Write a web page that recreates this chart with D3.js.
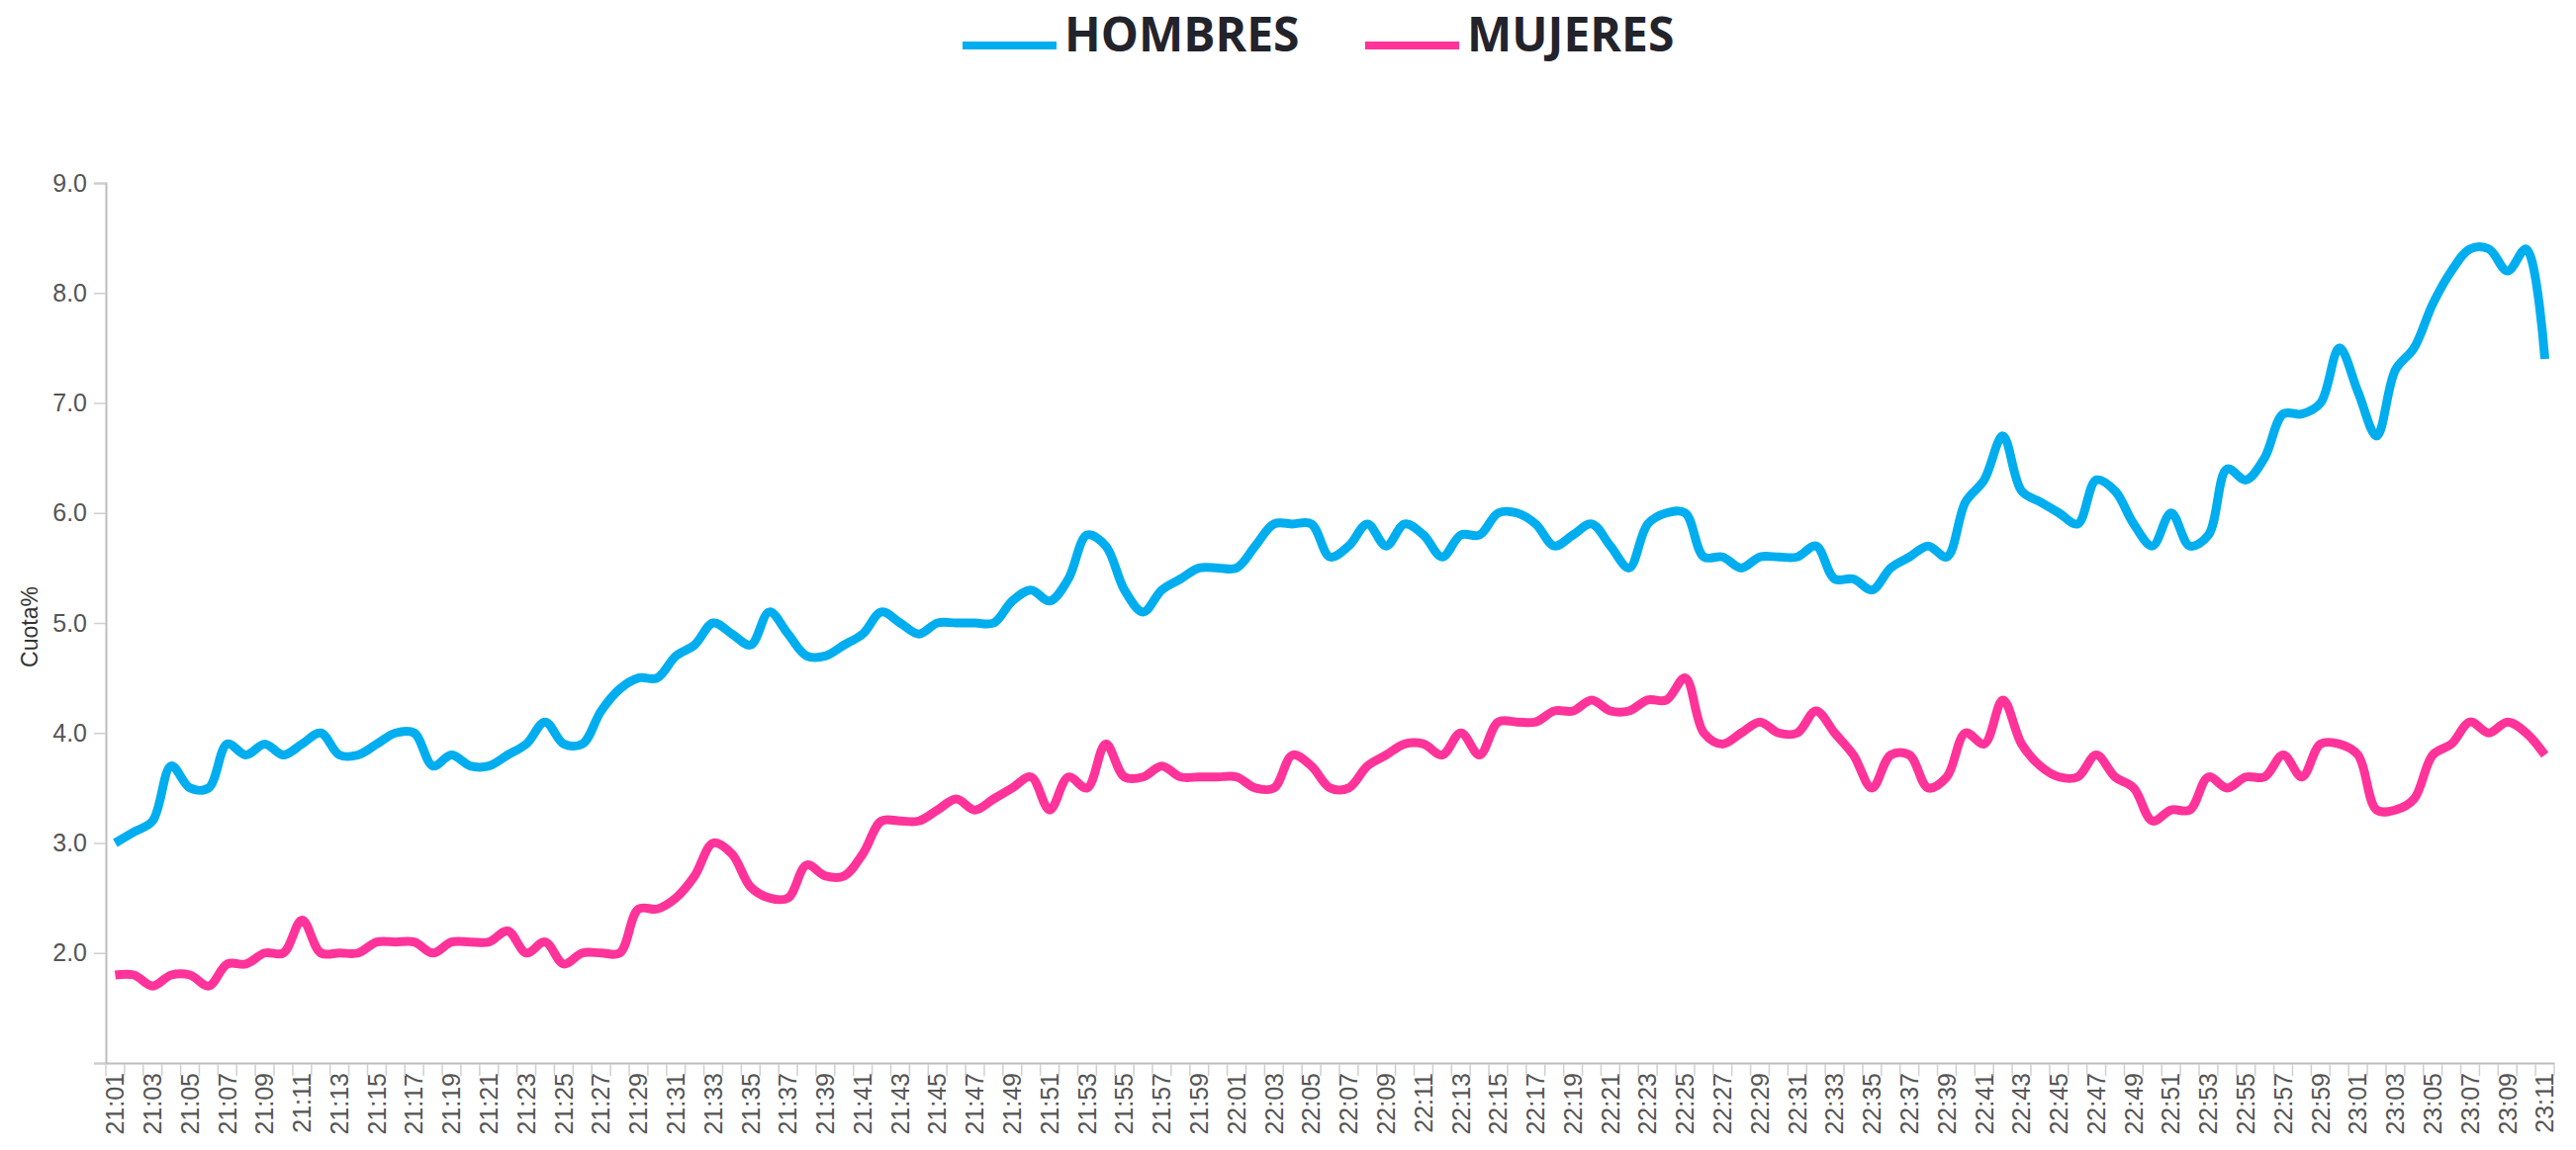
<!DOCTYPE html>
<html><head><meta charset="utf-8">
<script src="https://cdn.jsdelivr.net/npm/d3@7"></script>
<style>body{margin:0;background:#fff;} svg{display:block;}</style>
</head><body>
<svg id="chart" width="2604" height="1163"></svg>
<script>
// ---- data ----
const firstMinute = 21 * 60 + 1;   // 21:01
const pointCount = 131;            // 21:01 .. 23:11, one per minute
const categories = d3.range(pointCount).map(i => {
  const t = firstMinute + i;
  return String(Math.floor(t / 60)).padStart(2, "0") + ":" + String(t % 60).padStart(2, "0");
});
const hombres = [
  3.0,3.1,3.2,3.7,3.5,3.5,3.9,3.8,3.9,3.8,
  3.9,4.0,3.8,3.8,3.9,4.0,4.0,3.7,3.8,3.7,
  3.7,3.8,3.9,4.1,3.9,3.9,4.2,4.4,4.5,4.5,
  4.7,4.8,5.0,4.9,4.8,5.1,4.9,4.7,4.7,4.8,
  4.9,5.1,5.0,4.9,5.0,5.0,5.0,5.0,5.2,5.3,
  5.2,5.4,5.8,5.7,5.3,5.1,5.3,5.4,5.5,5.5,
  5.5,5.7,5.9,5.9,5.9,5.6,5.7,5.9,5.7,5.9,
  5.8,5.6,5.8,5.8,6.0,6.0,5.9,5.7,5.8,5.9,
  5.7,5.5,5.9,6.0,6.0,5.6,5.6,5.5,5.6,5.6,
  5.6,5.7,5.4,5.4,5.3,5.5,5.6,5.7,5.6,6.1,
  6.3,6.7,6.2,6.1,6.0,5.9,6.3,6.2,5.9,5.7,
  6.0,5.7,5.8,6.4,6.3,6.5,6.9,6.9,7.0,7.5,
  7.1,6.7,7.3,7.5,7.9,8.2,8.4,8.4,8.2,8.4,
  7.4
];
const mujeres = [
  1.8,1.8,1.7,1.8,1.8,1.7,1.9,1.9,2.0,2.0,
  2.3,2.0,2.0,2.0,2.1,2.1,2.1,2.0,2.1,2.1,
  2.1,2.2,2.0,2.1,1.9,2.0,2.0,2.0,2.4,2.4,
  2.5,2.7,3.0,2.9,2.6,2.5,2.5,2.8,2.7,2.7,
  2.9,3.2,3.2,3.2,3.3,3.4,3.3,3.4,3.5,3.6,
  3.3,3.6,3.5,3.9,3.6,3.6,3.7,3.6,3.6,3.6,
  3.6,3.5,3.5,3.8,3.7,3.5,3.5,3.7,3.8,3.9,
  3.9,3.8,4.0,3.8,4.1,4.1,4.1,4.2,4.2,4.3,
  4.2,4.2,4.3,4.3,4.5,4.0,3.9,4.0,4.1,4.0,
  4.0,4.2,4.0,3.8,3.5,3.8,3.8,3.5,3.6,4.0,
  3.9,4.3,3.9,3.7,3.6,3.6,3.8,3.6,3.5,3.2,
  3.3,3.3,3.6,3.5,3.6,3.6,3.8,3.6,3.9,3.9,
  3.8,3.3,3.3,3.4,3.8,3.9,4.1,4.0,4.1,4.0,
  3.8
];
const yTicks = [1, 2, 3, 4, 5, 6, 7, 8, 9];
const seriesNames = ["HOMBRES", "MUJERES"];
const seriesColors = ["#00aeef", "#ff3399"];
const yTitle = "Cuota%";

// ---- chart ----
const svg = d3.select("#chart");
const x = d3.scaleBand().domain(categories).range([107, 2582]);
const y = d3.scaleLinear().domain([1, 9]).range([1075, 185]);
const cx = c => x(c) + x.bandwidth() / 2;

// y axis
const yAxis = svg.append("g").attr("transform", "translate(107,0)")
  .call(d3.axisLeft(y).tickValues(yTicks)
    .tickFormat(d => d === 1 ? "" : d3.format(".1f")(d))
    .tickSize(12).tickPadding(7));
yAxis.select(".domain").attr("stroke", "#bdbdbd").attr("stroke-width", 2);
yAxis.selectAll(".tick line").attr("stroke", "#cfcfcf").attr("stroke-width", 1.5);
yAxis.selectAll(".tick text").attr("font-family", "Liberation Sans, Arial, sans-serif")
  .attr("font-size", 25).attr("fill", "#555");

// x axis: labels every other minute, ticks on category boundaries
const xAxis = svg.append("g").attr("transform", "translate(0,1075)")
  .call(d3.axisBottom(x).tickValues(categories.filter((c, i) => i % 2 === 0))
    .tickSize(0).tickSizeOuter(0).tickPadding(0));
xAxis.select(".domain").attr("stroke", "#bdbdbd").attr("stroke-width", 2);
xAxis.selectAll(".tick text")
  .attr("font-family", "Liberation Sans, Arial, sans-serif")
  .attr("font-size", 25).attr("fill", "#555")
  .attr("text-anchor", "end")
  .attr("transform", "translate(0,10) rotate(-90)")
  .attr("x", 0).attr("y", 0).attr("dy", "0.35em");
const edges = categories.map(c => x(c)).concat([x.range()[1]]);
svg.append("g").selectAll("line").data(edges).join("line")
  .attr("x1", d => d).attr("x2", d => d)
  .attr("y1", 1076).attr("y2", 1088)
  .attr("stroke", "#d0d0d0").attr("stroke-width", 1.5);

// y title
svg.append("text")
  .attr("transform", "translate(30,634) rotate(-90)")
  .attr("text-anchor", "middle").attr("dy", "0.35em")
  .attr("font-family", "Liberation Sans, Arial, sans-serif")
  .attr("font-size", 23).attr("fill", "#333")
  .text(yTitle);

// lines
const line = d3.line().x((d, i) => cx(categories[i])).y(d => y(d))
  .curve(d3.curveCatmullRom.alpha(0.5));
[hombres, mujeres].forEach((s, k) => {
  svg.append("path").datum(s)
    .attr("d", line)
    .attr("fill", "none")
    .attr("stroke", seriesColors[k])
    .attr("stroke-width", 9)
    .attr("stroke-linejoin", "round")
    .attr("stroke-linecap", "butt");
});

// legend
const legendX = [973, 1380];
seriesNames.forEach((n, k) => {
  const g = svg.append("g").attr("transform", `translate(${legendX[k]},0)`);
  g.append("line").attr("x1", 0).attr("x2", 95).attr("y1", 46).attr("y2", 46)
    .attr("stroke", seriesColors[k]).attr("stroke-width", 8);
  g.append("text").attr("x", 103).attr("y", 51.5)
    .attr("font-family", "Open Sans, sans-serif").attr("font-weight", 700)
    .attr("font-size", 48).attr("fill", "#23232b")
    .text(n);
});
</script>
</body></html>
